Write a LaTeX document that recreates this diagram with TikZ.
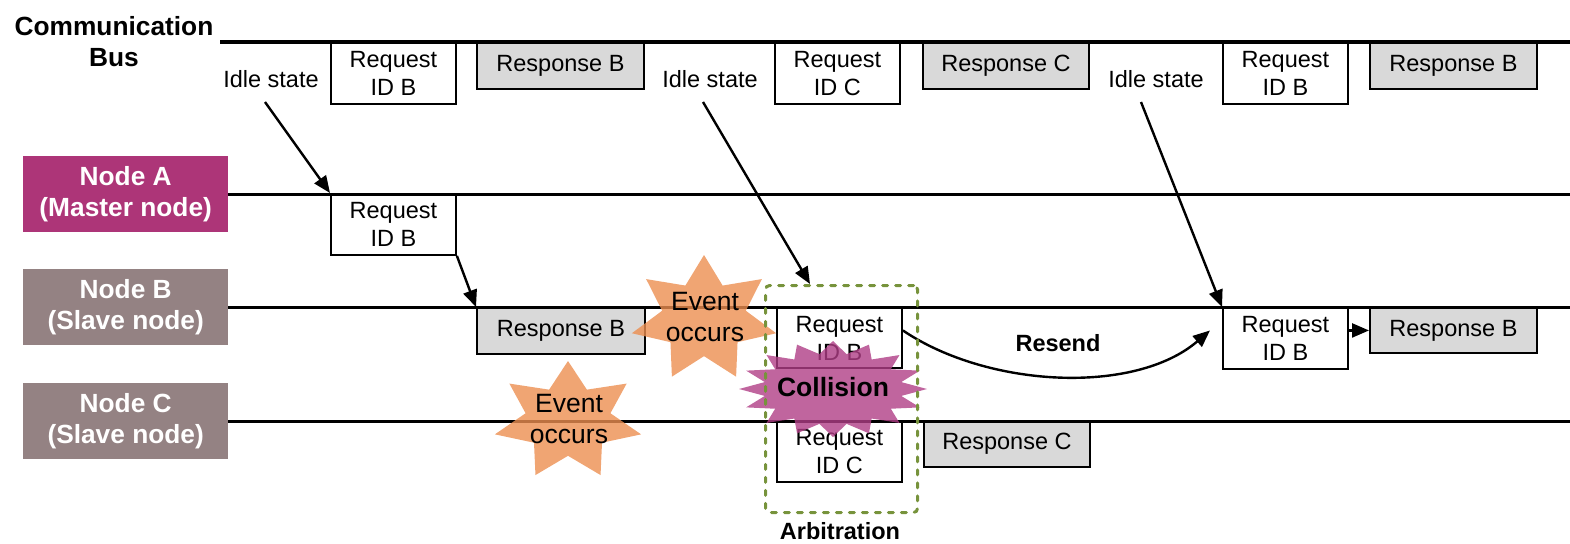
\documentclass[tikz,border=0pt]{standalone}
\usepackage{fontspec}
\setmainfont{Liberation Sans}
\usetikzlibrary{arrows.meta,calc}

\definecolor{masterc}{RGB}{173,53,120}
\definecolor{slavec}{RGB}{148,130,131}
\definecolor{boxgray}{RGB}{217,217,217}
\definecolor{evorange}{RGB}{236,142,80}
\definecolor{colpurple}{RGB}{176,62,134}
\definecolor{arbgreen}{RGB}{119,147,60}

\newcommand\txtfont{\fontsize{23.5}{28}\selectfont}
\newcommand\labfont{\fontsize{26.3}{31.5}\selectfont\bfseries}
\newcommand\evfont{\fontsize{26.5}{31}\selectfont}

% star polygon: style, cx, cy, rx, ry, points, inner ratio, last vertex index
\newcommand\starshape[8]{%
  \fill[#1] plot[variable=\k, samples at={0,...,#8}]
    ({#2+((mod(\k,2)==0)?1:#7)*#4*cos(90+\k*180/#6)},
     {#3-((mod(\k,2)==0)?1:#7)*#5*sin(90+\k*180/#6)}) -- cycle;}

\tikzset{
  laneline/.style={line width=3.4pt},
  msgbox/.style={draw, line width=1.9pt, fill=white, inner sep=0pt,
    align=center, font=\txtfont, anchor=north west},
  resbox/.style={msgbox, fill=boxgray},
  lanelabel/.style={text=white, font=\labfont, align=center, inner sep=0pt,
    anchor=north west, minimum width=205pt, minimum height=76pt},
  arr/.style={-{Triangle[length=17pt,width=14pt]}, line width=2.4pt},
  evstar/.style={fill=evorange, fill opacity=0.8},
  colstar/.style={fill=colpurple, fill opacity=0.8},
}

\begin{document}
\begin{tikzpicture}[x=1pt,y=-1pt]
\useasboundingbox (0,0) rectangle (1570,543);

% lane labels
\node[font=\labfont, align=center] (busname) at (114,41.5) {Communication\\Bus};
\node[lanelabel, fill=masterc] (laneA) at (23,156) {Node A\\(Master node)};
\node[lanelabel, fill=slavec] (laneB) at (23,269) {Node B\\(Slave node)};
\node[lanelabel, fill=slavec] (laneC) at (23,383) {Node C\\(Slave node)};

% frames on the bus
\node[msgbox, minimum width=125pt, minimum height=61pt] (busReqB1) at (330,42) {Request\\ID B};
\node[resbox, minimum width=167pt, minimum height=46pt] (busResB1) at (476,42) {Response B};
\node[msgbox, minimum width=125pt, minimum height=61pt] (busReqC) at (774,42) {Request\\ID C};
\node[resbox, minimum width=166pt, minimum height=46pt] (busResC) at (922,42) {Response C};
\node[msgbox, minimum width=125pt, minimum height=61pt] (busReqB2) at (1222,42) {Request\\ID B};
\node[resbox, minimum width=167pt, minimum height=46pt] (busResB2) at (1369,42) {Response B};

% frames on the nodes
\node[msgbox, minimum width=125pt, minimum height=61pt] (aReqB) at (330,193) {Request\\ID B};
\node[resbox, minimum width=168pt, minimum height=46pt] (bResB1) at (476,307) {Response B};
\node[msgbox, minimum width=125pt, minimum height=60pt] (bReqB1) at (776,307) {Request\\ID B};
\node[msgbox, minimum width=125pt, minimum height=61pt] (bReqB2) at (1222,307) {Request\\ID B};
\node[resbox, minimum width=167pt, minimum height=45pt] (bResB2) at (1369,307) {Response B};
\node[msgbox, minimum width=125pt, minimum height=61pt] (cReqC) at (776,420) {Request\\ID C};
\node[resbox, minimum width=166pt, minimum height=46pt] (cResC) at (923,420) {Response C};

% time lines
\coordinate (busL) at (220,42);
\coordinate (busR) at (1570,42);
\draw[laneline] (busL) -- (busR);
\draw[laneline] (laneA.east) -- (laneA.east -| busR);
\draw[laneline] (laneB.east) -- (laneB.east -| busR);
\draw[laneline] (laneC.east) -- (laneC.east -| busR);

% idle labels
\node[font=\txtfont] (idle1) at (271,79.5) {Idle state};
\node[font=\txtfont] (idle2) at (710,79.5) {Idle state};
\node[font=\txtfont] (idle3) at (1156,79.5) {Idle state};
\coordinate (idle1s) at (265,102);
\coordinate (idle2s) at (703,102);
\coordinate (idle3s) at (1141,102);

% arrows
\draw[arr] (idle1s) -- (aReqB.north west);
\draw[arr] (aReqB.south east) -- (bResB1.north west);
\draw[arr] (idle3s) -- (bReqB2.north west);
\draw[arr] (bReqB2.east |- bResB2.west) -- (bResB2.west);
\draw[arr] (bReqB1.east |- bResB2.west) .. controls (988,388) and (1135,395) ..
  ($(bReqB2.west |- bResB2.west)+(-12,0)$);
\node[font=\txtfont\bfseries] (resend) at (1058,343) {Resend};

% events and collision
\starshape{evstar}{704}{319}{74}{64}{7}{0.58}{13}
\starshape{evstar}{568}{421}{75}{60}{7}{0.58}{13}
\node[font=\evfont, align=center] (ev1) at (705,317) {Event\\occurs};
\node[font=\evfont, align=center] (ev2) at (569,419) {Event\\occurs};
\starshape{colstar}{833}{389}{94}{48}{16}{0.74}{31}

% arbitration window
\node[draw=arbgreen, line width=3pt, dash pattern=on 5pt off 8pt, line cap=round,
  rounded corners=4pt, minimum width=152pt, minimum height=227pt, anchor=north west]
  (arb) at (764,284) {};
\node[font=\txtfont\bfseries] (arbtxt) at (840,531) {Arbitration};
\draw[arr] (idle2s) -- ($(arb.north west)+(46,0)$);
\node[font=\evfont\bfseries] (coll) at (833,387) {Collision};

\end{tikzpicture}
\end{document}
